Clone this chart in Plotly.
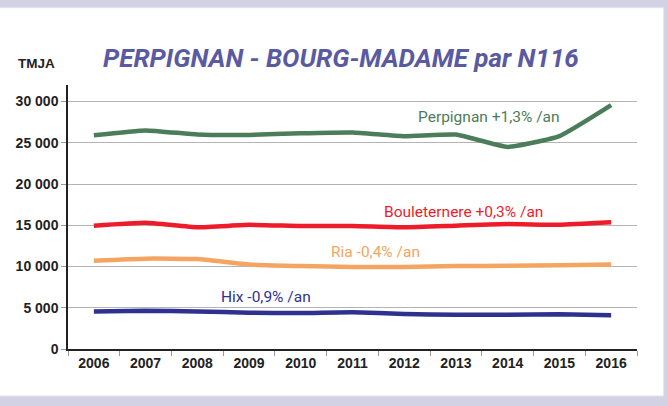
import plotly.graph_objects as go

# data
years = ["2006", "2007", "2008", "2009", "2010", "2011", "2012", "2013", "2014", "2015", "2016"]
perpignan = [25900, 26500, 26000, 25950, 26150, 26250, 25800, 26000, 24500, 25800, 29550]
bouleternere = [14950, 15300, 14750, 15050, 14900, 14900, 14750, 14950, 15150, 15050, 15350]
ria = [10700, 10950, 10900, 10250, 10050, 9950, 9950, 10050, 10100, 10150, 10250]
hix = [4550, 4650, 4550, 4400, 4350, 4450, 4250, 4150, 4150, 4200, 4100]

series_names = ["Perpignan", "Bouleternere", "Ria", "Hix"]
series_labels = ["Perpignan +1,3% /an", "Bouleternere +0,3% /an", "Ria -0,4% /an", "Hix -0,9% /an"]
colors = ["#4b7d5a", "#ee1c2b", "#f4a562", "#2f3190"]

title_text = "PERPIGNAN - BOURG-MADAME par N116"
y_title = "TMJA"

fig = go.Figure()
for name, vals, col in zip(series_names, [perpignan, bouleternere, ria, hix], colors):
    fig.add_trace(go.Scatter(x=years, y=vals, mode="lines", name=name,
                             line=dict(color=col, width=4.5, shape="spline", smoothing=0.4)))

# series labels placed in the plot (x = category index)
label_pos = [(7.63, 28100), (7.15, 16650), (5.45, 11800), (3.33, 6350)]
narrow = "Roboto, sans-serif"
annotations = []
for txt, (ax, ay), col in zip(series_labels, label_pos, colors):
    annotations.append(dict(x=ax, y=ay, xref="x", yref="y", text=txt, showarrow=False,
                            font=dict(family=narrow, size=15.5, color=col)))

annotations.append(dict(x=-0.055, y=1.083, xref="paper", yref="paper", text="<b>" + y_title + "</b>",
                        showarrow=False, xanchor="center", yanchor="middle",
                        font=dict(family="Liberation Sans, Arial", size=13.5, color="#222")))
annotations.append(dict(x=0.48, y=1.167, xref="paper", yref="paper",
                        text="<b><i>" + title_text + "</i></b>", showarrow=False,
                        font=dict(family=narrow, size=26, color="#5a5aa2")))

# page frame: lavender bands top/bottom, white card
shapes = [
    dict(type="rect", xref="paper", yref="paper", x0=-0.2, x1=1.1, y0=-0.3, y1=1.4,
         fillcolor="#d2d2e4", line_width=0, layer="below"),
    dict(type="rect", xref="paper", yref="paper", x0=-0.2, x1=1.047, y0=-0.178, y1=1.293,
         fillcolor="white", line=dict(color="#e2e2ec", width=1), layer="below"),
]

bold_tick = dict(size=14, color="#222", family="Liberation Sans, Arial", weight="bold")

fig.update_layout(
    width=667, height=406,
    margin=dict(l=68, r=30, t=85, b=57),
    paper_bgcolor="white", plot_bgcolor="#f0f0f0",
    showlegend=False,
    separators=", ",
    annotations=annotations, shapes=shapes,
    font=dict(family="Liberation Sans, Arial", size=12, color="#222"),
    xaxis=dict(type="category", showgrid=False, showline=True, linecolor="#222", linewidth=1.5,
               ticks="outside", tickson="boundaries", ticklen=5, tickcolor="#999",
               tickfont=bold_tick, range=[-0.5, 10.5]),
    yaxis=dict(range=[0, 32000], tickvals=[0, 5000, 10000, 15000, 20000, 25000, 30000],
               tickformat=",d", showgrid=True, gridcolor="#b4b4b4", gridwidth=1,
               showline=True, linecolor="#222", linewidth=1.5, zeroline=False,
               ticks="outside", ticklen=5, tickcolor="#999",
               tickfont=bold_tick),
)

fig.write_html("out.html", config={"displayModeBar": False},
               post_script="document.body.style.margin='0';")
